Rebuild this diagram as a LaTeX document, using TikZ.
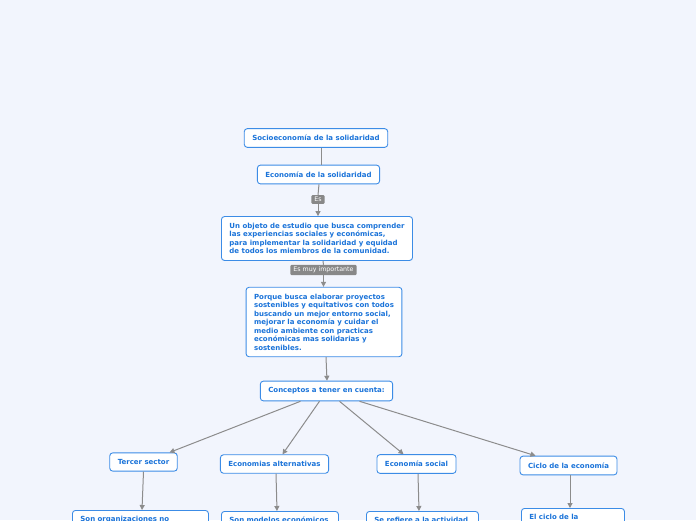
\documentclass[tikz,border=0pt]{standalone}
\usepackage{fontspec}
\setmainfont{DejaVu Sans}
\usetikzlibrary{arrows.meta}
\definecolor{bgc}{HTML}{F2F5FD}
\definecolor{boxb}{HTML}{3C8CE6}
\definecolor{txtb}{HTML}{1A73D9}
\definecolor{lineg}{HTML}{8C8C8C}
\definecolor{labg}{HTML}{888888}
\tikzset{
  cbox/.style={draw=boxb, line width=0.9pt, fill=white, rounded corners=3pt,
    font=\fontsize{7}{8.5}\selectfont\bfseries, text=txtb, inner xsep=8pt, inner ysep=6.5pt},
  tbox/.style={cbox, align=left},
  bbox/.style={cbox, anchor=north west, align=left, inner ysep=5.5pt},
  lab/.style={fill=labg, text=white, font=\fontsize{6.3}{7}\selectfont, inner xsep=3pt, inner ysep=2pt, rounded corners=1pt},
  conn/.style={draw=lineg, line width=1pt},
  arr/.style={conn, -{Triangle[length=5pt,width=5pt]}}
}
\begin{document}
\begin{tikzpicture}[x=1pt,y=-1pt]
\useasboundingbox (0,0) rectangle (696,520);
\clip (0,0) rectangle (696,520);
\fill[bgc] (0,0) rectangle (696,520);

\node[cbox] (a) at (316,138) {Socioeconomía de la solidaridad};
\node[cbox] (b) at (318.5,174.5) {Economía de la solidaridad};
\node[lab] (l1) at (318,199.5) {Es};
\node[tbox] (c) at (317,238.5) {Un objeto de estudio que busca comprender\\las experiencias sociales y económicas,\\para implementar la solidaridad y equidad\\de todos los miembros de la comunidad.};
\node[lab] (l2) at (323.5,270) {Es muy importante};
\node[tbox] (d) at (324,322) {Porque busca elaborar proyectos\\sostenibles y equitativos con todos\\buscando un mejor entorno social,\\mejorar la economía y cuidar el\\medio ambiente con practicas\\económicas mas solidarias y\\sostenibles.};
\node[cbox] (e) at (326.5,391) {Conceptos a tener en cuenta:};
\node[cbox] (f) at (143.5,462) {Tercer sector};
\node[cbox] (g) at (274.5,464) {Economias alternativas};
\node[cbox] (h) at (416.5,464) {Economía social};
\node[cbox] (i) at (568.5,465.5) {Ciclo de la economía};

\node[bbox, text width=120pt] (j) at (72,510) {Son organizaciones no\\gubernamentales};
\node[bbox, text width=101pt] (k) at (221,511) {Son modelos económicos\\alternativos};
\node[bbox, text width=96pt] (m) at (366,511) {Se refiere a la actividad\\económica};
\node[bbox, text width=87pt] (n) at (521,508) {El ciclo de la\\economía};

\draw[conn] ([xshift=5pt]a.south) -- ([xshift=2.5pt]b.north);
\draw[conn] ([xshift=0.5pt]b.south) -- (l1.north);
\draw[arr] (l1.south) -- (c.north -| l1);
\draw[conn] ([xshift=6pt]c.south) -- (l2.north);
\draw[arr] (l2.south) -- (d.north -| l2);
\draw[arr] ([xshift=2pt]d.south) -- ([xshift=0.5pt]e.north);
\draw[arr] ([xshift=-26pt]e.south) -- ([xshift=26pt]f.north);
\draw[arr] ([xshift=-7pt]e.south) -- ([xshift=8pt]g.north);
\draw[arr] ([xshift=13pt]e.south) -- ([xshift=-13pt]h.north);
\draw[arr] ([xshift=33pt]e.south) -- ([xshift=-33pt]i.north);
\draw[arr] (f.south) -- ([xshift=70pt]j.north west);
\draw[arr] ([xshift=1.5pt]g.south) -- ([xshift=56pt]k.north west);
\draw[arr] ([xshift=1.5pt]h.south) -- ([xshift=53pt]m.north west);
\draw[arr] ([xshift=1.5pt]i.south) -- ([xshift=49pt]n.north west);
\end{tikzpicture}
\end{document}
